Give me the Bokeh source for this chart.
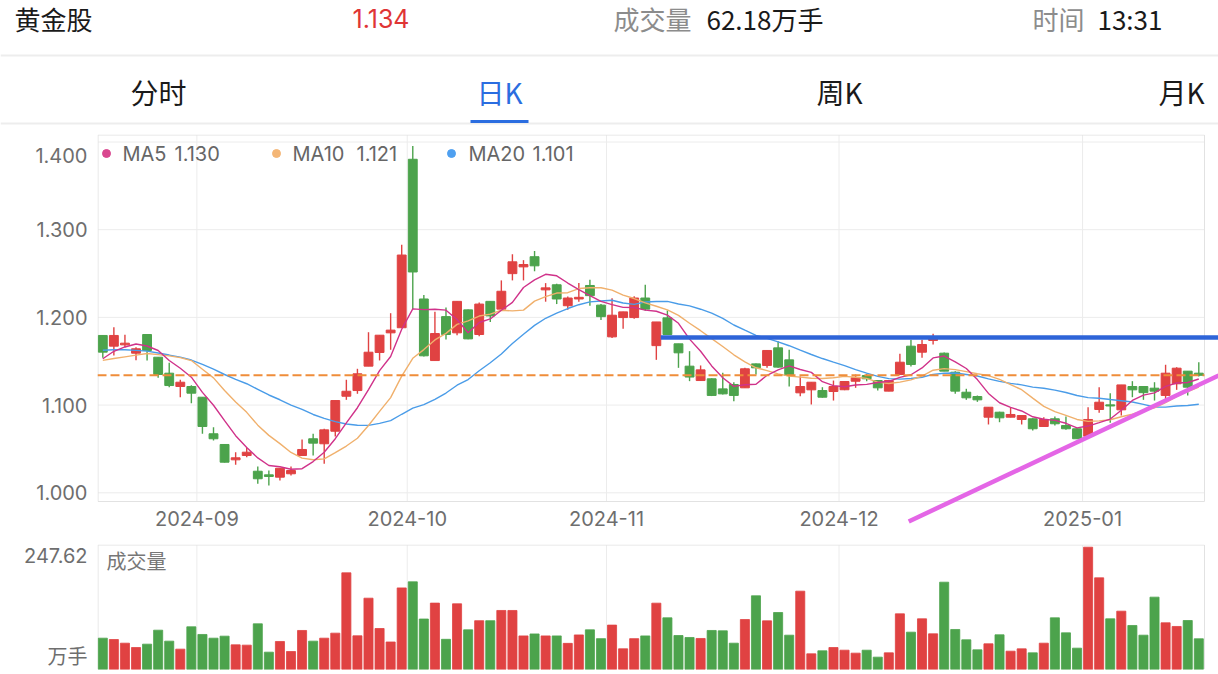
import pandas as pd
from bokeh.plotting import figure
from bokeh.layouts import column
from bokeh.models import Range1d, FixedTicker, Arrow, ColumnDataSource, PrintfTickFormatter
from bokeh.core.properties import value
from bokeh.embed import file_html
from bokeh.resources import INLINE

# ---------------- data ----------------
holidays = ["2024-09-16", "2024-09-17", "2024-10-01", "2024-10-02", "2024-10-03",
            "2024-10-04", "2024-10-07", "2025-01-01"]
dates = [d for d in pd.bdate_range("2024-08-20", "2025-01-16")
         if d.strftime("%Y-%m-%d") not in holidays]

opens = [1.1794, 1.1672, 1.1687, 1.1592, 1.1805, 1.1546, 1.1364, 1.1212, 1.1212, 1.1090,
         1.0673, 1.0551, 1.0376, 1.0425, 1.0246, 1.0205, 1.0178, 1.0217, 1.0425, 1.0616,
         1.0559, 1.0702, 1.1101, 1.1166, 1.1444, 1.1600, 1.1824, 1.1882, 1.3803, 1.2210,
         1.1508, 1.2009, 1.1824, 1.2086, 1.1805, 1.2183, 1.2094, 1.2499, 1.2576, 1.2692,
         1.2314, 1.2372, 1.2133, 1.2210, 1.2364, 1.2140, 1.1778, 1.1998, 1.1998, 1.2221,
         1.1678, 1.1995, 1.1699, 1.1444, 1.1280, 1.1300, 1.1185, 1.1235, 1.1197, 1.1470,
         1.1452, 1.1653, 1.1516, 1.1140, 1.1174, 1.1166, 1.1155, 1.1175, 1.1272, 1.1337,
         1.1280, 1.1159, 1.1349, 1.1672, 1.1603, 1.1737, 1.1592, 1.1375, 1.1147, 1.1098,
         1.0862, 1.0919, 1.0862, 1.0836, 1.0844, 1.0756, 1.0844, 1.0767, 1.0730, 1.0645,
         1.0950, 1.1003, 1.0946, 1.1212, 1.1212, 1.1193, 1.1110, 1.1243, 1.1387, 1.1364]
highs = [1.1794, 1.1889, 1.1801, 1.1660, 1.1805, 1.1546, 1.1482, 1.1289, 1.1225, 1.1090,
         1.0748, 1.0555, 1.0463, 1.0513, 1.0300, 1.0254, 1.0280, 1.0300, 1.0608, 1.0673,
         1.0730, 1.1052, 1.1289, 1.1414, 1.1831, 1.1797, 1.2048, 1.2827, 1.3953, 1.2256,
         1.2063, 1.2113, 1.2183, 1.2090, 1.2171, 1.2183, 1.2422, 1.2719, 1.2653, 1.2757,
         1.2391, 1.2384, 1.2237, 1.2391, 1.2430, 1.2152, 1.2218, 1.2063, 1.2240, 1.2372,
         1.1948, 1.2079, 1.1699, 1.1615, 1.1452, 1.1305, 1.1368, 1.1260, 1.1425, 1.1475,
         1.1623, 1.1729, 1.1630, 1.1326, 1.1261, 1.1204, 1.1280, 1.1275, 1.1349, 1.1356,
         1.1285, 1.1280, 1.1585, 1.1745, 1.1745, 1.1813, 1.1600, 1.1385, 1.1186, 1.1109,
         1.0976, 1.0925, 1.0969, 1.0881, 1.0850, 1.0862, 1.0869, 1.0869, 1.0735, 1.0976,
         1.1204, 1.1136, 1.1230, 1.1273, 1.1215, 1.1261, 1.1460, 1.1432, 1.1390, 1.1490]
lows = [1.1539, 1.1566, 1.1660, 1.1510, 1.1508, 1.1311, 1.1204, 1.1090, 1.1022, 1.0673,
        1.0596, 1.0345, 1.0319, 1.0406, 1.0103, 1.0083, 1.0140, 1.0197, 1.0425, 1.0425,
        1.0331, 1.0642, 1.1060, 1.1129, 1.1444, 1.1509, 1.1631, 1.1882, 1.2094, 1.1555,
        1.1508, 1.1747, 1.1797, 1.1750, 1.1786, 1.1948, 1.2094, 1.2422, 1.2422, 1.2526,
        1.2179, 1.2152, 1.2086, 1.2179, 1.2133, 1.1971, 1.1766, 1.1870, 1.1986, 1.2075,
        1.1516, 1.1805, 1.1425, 1.1273, 1.1275, 1.1103, 1.1122, 1.1045, 1.1197, 1.1349,
        1.1425, 1.1425, 1.1212, 1.1102, 1.1007, 1.1085, 1.1052, 1.1170, 1.1197, 1.1272,
        1.1166, 1.1159, 1.1349, 1.1440, 1.1539, 1.1691, 1.1387, 1.1129, 1.1060, 1.1037,
        1.0779, 1.0805, 1.0860, 1.0779, 1.0710, 1.0750, 1.0768, 1.0718, 1.0616, 1.0640,
        1.0912, 1.0798, 1.0881, 1.1090, 1.1060, 1.1052, 1.1060, 1.1174, 1.1110, 1.1326]
closes = [1.1604, 1.1794, 1.1706, 1.1642, 1.1623, 1.1349, 1.1223, 1.1261, 1.1136, 1.0756,
          1.0616, 1.0349, 1.0399, 1.0463, 1.0160, 1.0186, 1.0280, 1.0254, 1.0494, 1.0566,
          1.0718, 1.1052, 1.1158, 1.1357, 1.1603, 1.1797, 1.1855, 1.2711, 1.2518, 1.1562,
          1.1816, 1.1805, 1.2183, 1.1755, 1.2152, 1.2017, 1.2298, 1.2634, 1.2603, 1.2588,
          1.2337, 1.2210, 1.2221, 1.2229, 1.2248, 1.2009, 1.2025, 1.2063, 1.2221, 1.2094,
          1.1948, 1.1805, 1.1596, 1.1320, 1.1402, 1.1110, 1.1128, 1.1110, 1.1414, 1.1425,
          1.1623, 1.1433, 1.1338, 1.1212, 1.1261, 1.1090, 1.1212, 1.1269, 1.1311, 1.1300,
          1.1197, 1.1280, 1.1489, 1.1463, 1.1691, 1.1767, 1.1387, 1.1159, 1.1083, 1.1060,
          1.0976, 1.0855, 1.0893, 1.0881, 1.0730, 1.0836, 1.0787, 1.0730, 1.0616, 1.0836,
          1.1033, 1.0990, 1.1230, 1.1174, 1.1142, 1.1159, 1.1364, 1.1421, 1.1204, 1.1340]
# closes of the 19 sessions before the window (only used for the moving averages)
prior_closes = [1.168, 1.172, 1.178, 1.181, 1.176, 1.170, 1.174, 1.179, 1.175, 1.169,
                1.158, 1.152, 1.145, 1.143, 1.148, 1.137, 1.146, 1.147, 1.174]
volumes = [63.4, 60.7, 53.3, 44.5, 51.3, 79.6, 57.4, 41.2, 86.4, 70.9,
           63.4, 67.5, 49.9, 49.3, 92.5, 35.1, 56.7, 36.4, 79.0, 57.4,
           63.4, 73.6, 195.7, 68.2, 144.4, 83.0, 55.7, 165.2, 177.5, 102.2,
           134.4, 61.1, 133.0, 80.3, 98.8, 98.8, 119.5, 119.5, 68.0, 72.0,
           68.0, 68.0, 52.9, 70.0, 80.3, 62.5, 89.9, 41.9, 62.5, 68.0,
           134.3, 104.6, 68.8, 64.8, 62.8, 79.0, 78.3, 53.3, 101.2, 149.2,
           98.5, 115.4, 69.5, 158.6, 31.7, 37.8, 44.5, 39.1, 33.1, 39.1,
           25.0, 33.7, 112.7, 75.6, 102.6, 72.2, 176.8, 81.0, 60.1, 39.8,
           52.0, 70.2, 37.1, 41.8, 33.7, 53.3, 104.6, 74.2, 43.2, 247.62,
           185.6, 102.6, 118.1, 89.1, 69.5, 146.5, 94.5, 87.1, 99.2, 62.18]

stock_name = "黄金股"
quote_time = "13:31"
tabs = ["分时", "日K", "周K", "月K"]
active_tab = 1
price_grid = [1.0, 1.1, 1.2, 1.3, 1.4]
# user-drawn lines: resistance level and rising trend line (data coords)
resistance = dict(x_start=50.4, level=1.1772)
trend = dict(x0=72.8, y0=0.9673, x1=100.8, y1=1.1338)

assert len(dates) == 100
n = len(closes)
idx = list(range(n))

def moving_avg(k):
    hist = prior_closes + closes
    off = len(prior_closes)
    return [sum(hist[off + i - k + 1: off + i + 1]) / k for i in range(n)]

ma5, ma10, ma20 = moving_avg(5), moving_avg(10), moving_avg(20)

# ---------------- style ----------------
RED, GREEN = "#e04242", "#4ca34c"
C_MA5, C_MA10, C_MA20 = "#d0328a", "#f0b06c", "#4a9ce8"
GRID, BORDER, LBL = "#ececec", "#e2e2e2", "#6e6e6e"
FONT = "Inter"
CJK = "Noto Sans CJK SC"
W = 1218

# pixel geometry of the reference (layout only)
STEP = 11.0707          # px per session
X_PX0 = 102.3           # px of session 0
Y_PX1 = 492.3           # px of price 1.000
PPU = 877.0             # px per price unit
BOX_L, BOX_R, BOX_T, BOX_B = 97, 1204, 134, 501

def px2x(px):
    return (px - X_PX0) / STEP

def py2y(py):
    return 1.0 + (Y_PX1 - py) / PPU

# ---------------- header ----------------
h = figure(width=W, height=130, x_range=Range1d(0, W), y_range=Range1d(130, 0),
           min_border=0, x_axis_location=None, y_axis_location=None,
           toolbar_location=None, output_backend="svg", outline_line_color=None)
try:
    h.frame_align = False
except Exception:
    pass
h.grid.visible = False
h.segment(x0=[0, 0], y0=[55, 123], x1=[W, W], y1=[55, 123], line_color="#ededed", line_width=2)

def htext(x, y, t, color, size, align="left", font=CJK):
    h.text(x=[x], y=[y], text=[t], text_color=color, text_font=value(font),
           text_font_size=size, text_align=align, text_baseline="middle")

htext(14, 18, stock_name, "#1a1a1a", "26px")
htext(352, 18, f"{closes[-1]:.3f}", "#df3535", "25px", font=FONT)
htext(613, 18, "成交量", "#8c8c8c", "26px")
htext(706, 18, f"{volumes[-1]:.2f}万手", "#1a1a1a", "26px")
htext(1032, 18, "时间", "#8c8c8c", "26px")
htext(1097, 18, quote_time, "#1a1a1a", "26px")
for k, (t, cx) in enumerate(zip(tabs, [158, 499, 839, 1181])):
    htext(cx, 91, t, "#2b6de0" if k == active_tab else "#1a1a1a", "28px", align="center")
h.segment(x0=[470], y0=[121], x1=[528], y1=[121], line_color="#2b6de0", line_width=3)

# ---------------- candles ----------------
p = figure(width=W, height=405,
           x_range=Range1d(px2x(BOX_L), px2x(W)),
           y_range=Range1d(py2y(535), py2y(BOX_T)),
           min_border_left=BOX_L, min_border_right=0, min_border_top=4, min_border_bottom=0,
           toolbar_location=None, output_backend="svg")
p.outline_line_color = None
p.grid.visible = False

up = [c >= o for o, c in zip(opens, closes)]
colors = [RED if u else GREEN for u in up]
src = ColumnDataSource(dict(x=idx, high=highs, low=lows,
                            top=[max(o, c) for o, c in zip(opens, closes)],
                            bottom=[min(o, c) for o, c in zip(opens, closes)],
                            color=colors, vol=volumes))

month_starts = [i for i in range(1, n) if dates[i].month != dates[i - 1].month]
month_ticks = [i - 0.5 for i in month_starts]
month_labels = {i - 0.5: dates[i].strftime("%Y-%m") for i in month_starts}

# grid and plot box
yb, yt = py2y(BOX_B), py2y(BOX_T + 0.5)
xl, xr = px2x(BOX_L + 0.5), px2x(BOX_R)
p.segment(x0=[xl] * len(price_grid), y0=price_grid, x1=[xr] * len(price_grid), y1=price_grid,
          line_color=GRID, line_width=1)
p.segment(x0=month_ticks, y0=[yb] * len(month_ticks), x1=month_ticks, y1=[yt] * len(month_ticks),
          line_color=GRID, line_width=1)
p.segment(x0=[xl, xl, xl, xr], y0=[yt, yb, yb, yb], x1=[xr, xr, xl, xr], y1=[yt, yb, yt, yt],
          line_color=BORDER, line_width=1)

# axes
p.xaxis.ticker = FixedTicker(ticks=month_ticks)
p.xaxis.major_label_overrides = month_labels
p.xaxis.fixed_location = yb
top_label_pos = round(py2y(155), 3)
p.yaxis.ticker = FixedTicker(ticks=price_grid[:-1] + [top_label_pos])
p.yaxis.formatter = PrintfTickFormatter(format="%.3f")
p.yaxis.major_label_overrides = {top_label_pos: f"{price_grid[-1]:.3f}"}
for ax in (p.xaxis, p.yaxis):
    ax.axis_line_color = None
    ax.major_tick_line_color = None
    ax.minor_tick_line_color = None
    ax.major_label_text_color = LBL
    ax.major_label_text_font = FONT
    ax.major_label_text_font_size = "20px"
p.xaxis.major_label_standoff = 3
p.yaxis.major_label_standoff = 4

# candles
p.segment(x0="x", y0="high", x1="x", y1="low", line_color="color", line_width=1.4, source=src)
p.vbar(x="x", width=0.8, top="top", bottom="bottom", fill_color="color",
       line_color="color", line_width=1, source=src)

# moving averages
p.line(idx, ma20, line_color=C_MA20, line_width=1.4)
p.line(idx, ma10, line_color=C_MA10, line_width=1.4)
p.line(idx, ma5, line_color=C_MA5, line_width=1.4)

# last price line
p.segment(x0=[px2x(BOX_L)], y0=[closes[-1]], x1=[xr], y1=[closes[-1]],
          line_color="#ef8d3a", line_width=2, line_dash="9 4")
# drawn lines
p.add_layout(Arrow(end=None, x_start=resistance["x_start"], y_start=resistance["level"],
                   x_end=trend["x1"], y_end=resistance["level"],
                   line_color="#2e64d8", line_width=4.5))
p.add_layout(Arrow(end=None, x_start=trend["x0"], y_start=trend["y0"],
                   x_end=trend["x1"], y_end=trend["y1"],
                   line_color="#e466e6", line_width=4.5))

# legend
ly = py2y(153)
p.scatter(x=[px2x(106), px2x(276), px2x(451)], y=[ly] * 3, size=8,
          color=["#d9478f", "#f4b676", "#4fa0f0"])
p.text(x=[px2x(122), px2x(174), px2x(292), px2x(356), px2x(468), px2x(532)], y=[ly] * 6,
       text=["MA5", f"{ma5[-1]:.3f}", "MA10", f"{ma10[-1]:.3f}", "MA20", f"{ma20[-1]:.3f}"],
       text_color="#666666", text_font=value(FONT), text_font_size="20px",
       text_align="left", text_baseline="middle")

# ---------------- volume ----------------
V_BASE_PX = 669.0
vscale = max(volumes) / (V_BASE_PX - 546.7)   # volume units per px

def pv(py):
    return (V_BASE_PX - py) * vscale

v = figure(width=W, height=139, x_range=p.x_range, y_range=Range1d(0, pv(544)),
           min_border_left=BOX_L, min_border_right=0, min_border_top=9, min_border_bottom=5,
           x_axis_location=None, toolbar_location=None, output_backend="svg")
v.outline_line_color = None
v.grid.visible = False
vb, vtp = pv(668.5), pv(544.5)
v.segment(x0=month_ticks, y0=[0] * len(month_ticks), x1=month_ticks, y1=[vtp] * len(month_ticks),
          line_color=GRID, line_width=1)
v.segment(x0=[xl, xl, xr], y0=[vtp, vb, vb], x1=[xr, xl, xr], y1=[vtp, vtp, vtp],
          line_color=BORDER, line_width=1)
vt_hi, vt_lo = round(pv(556), 1), round(pv(657), 1)
v.yaxis.ticker = FixedTicker(ticks=[vt_lo, vt_hi])
v.yaxis.major_label_overrides = {vt_hi: f"{max(volumes):.2f}", vt_lo: "万手"}
v.yaxis.axis_line_color = None
v.yaxis.major_tick_line_color = None
v.yaxis.minor_tick_line_color = None
v.yaxis.major_label_text_color = LBL
v.yaxis.major_label_text_font = "Inter, 'Noto Sans CJK SC'"
v.yaxis.major_label_text_font_size = "20px"
v.yaxis.major_label_standoff = 4
v.vbar(x="x", width=0.82, top="vol", bottom=0, fill_color="color", line_color="color",
       line_width=0.8, source=src)
v.text(x=[px2x(106)], y=[pv(560)], text=["成交量"], text_color="#777777",
       text_font=value(CJK), text_font_size="20px", text_align="left", text_baseline="middle")

layout = column(h, p, v, spacing=0)
open("out.html", "w").write(file_html(layout, INLINE))
